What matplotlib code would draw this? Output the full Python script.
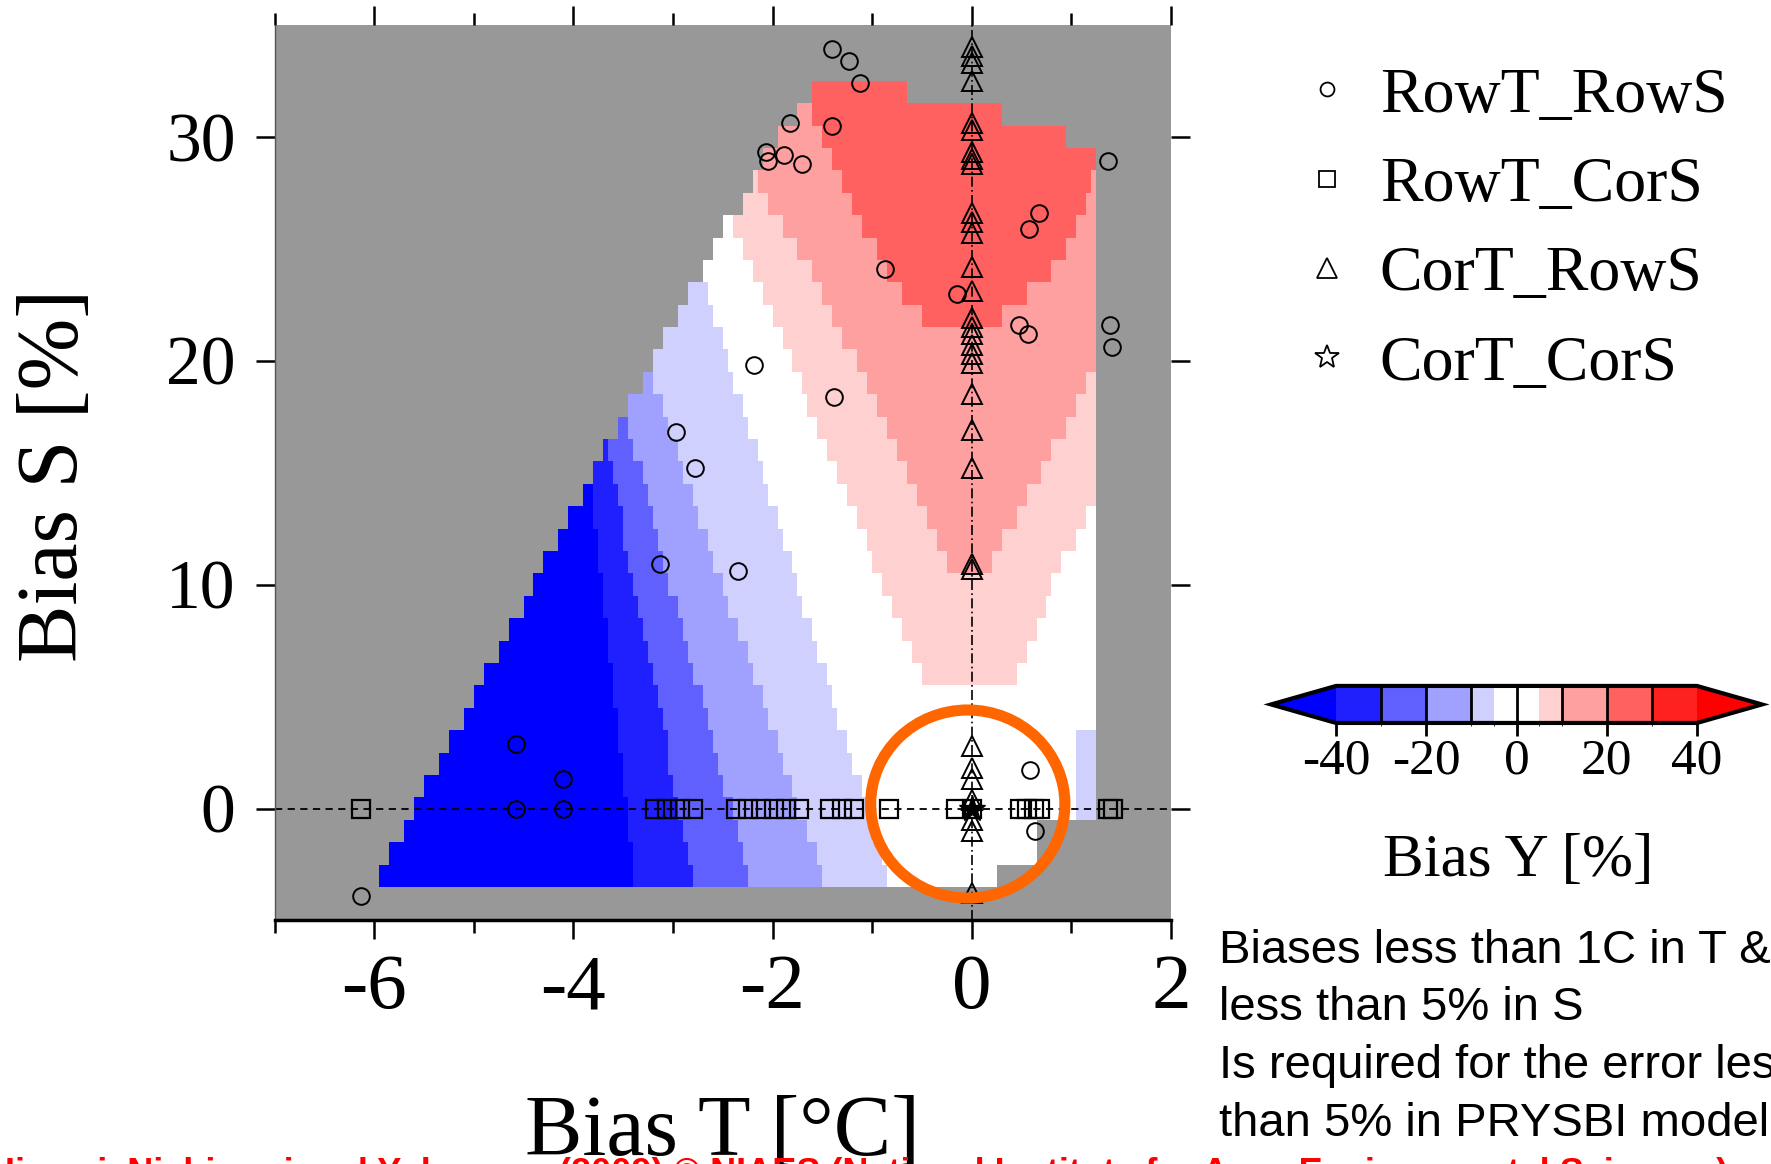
import numpy as np
import matplotlib
matplotlib.use("Agg")
import matplotlib.pyplot as plt
from matplotlib.colors import ListedColormap, BoundaryNorm
from matplotlib.cm import ScalarMappable
from matplotlib.patches import Ellipse
from matplotlib.lines import Line2D

plt.rcParams["font.family"] = ["Liberation Serif", "DejaVu Serif"]
plt.rcParams["axes.unicode_minus"] = False

# colour classes of Bias Y [%]
y_bounds = [-40, -30, -20, -10, -5, 0, 5, 10, 20, 30, 40]
y_colors = ["#2020ff", "#6060ff", "#a0a0ff", "#d0d0ff", "#ffffff",
            "#ffffff", "#ffd0d0", "#ffa0a0", "#ff6060", "#ff2020"]
y_under, y_over = "#0000ff", "#ff0000"
cbar_ticks = [-40, -20, 0, 20, 40]

# Bias S rows (%), one model row per 1 %
s_rows = np.arange(-3, 33)

# left / right edge (Bias T, degC) of the simulated domain for each row
dom_left = [-5.95, -5.85, -5.70, -5.60, -5.50, -5.35, -5.25, -5.10, -5.00, -4.90,   # S -3..6
            -4.75, -4.65, -4.50, -4.40, -4.30, -4.15, -4.05, -3.90, -3.80, -3.70,   # S 7..16
            -3.55, -3.45, -3.30, -3.20, -3.10, -2.95, -2.85, -2.70, -2.60, -2.50,   # S 17..26
            -2.30, -2.20, -2.10, -1.95, -1.75, -1.60]                               # S 27..32
dom_right = [0.25, 0.65, 0.65] + [1.25] * 30 + [0.95, 0.30, -0.65]

# right edge of each blue class (filled from the domain's left edge)
edge_lt40 = [-3.40, -3.40, -3.45, -3.45, -3.50, -3.50, -3.55, -3.55, -3.60,
             -3.60, -3.65, -3.65, -3.70, -3.70, -3.75, -3.75, -3.80, -3.80]        # S -3..14
edge_m30 = [-2.80, -2.85, -2.90, -2.95, -3.00, -3.05, -3.05, -3.10, -3.15, -3.20,
            -3.25, -3.30, -3.35, -3.40, -3.45, -3.50, -3.50, -3.55, -3.60, -3.65]  # S -3..16
edge_m20 = [-2.25, -2.30, -2.35, -2.40, -2.50, -2.55, -2.60, -2.65, -2.70, -2.80,
            -2.85, -2.90, -2.95, -3.05, -3.10, -3.15, -3.20, -3.25, -3.30, -3.40,
            -3.45]                                                                 # S -3..17
edge_m10 = [-1.50, -1.55, -1.65, -1.75, -1.80, -1.90, -1.95, -2.05, -2.10, -2.20,
            -2.25, -2.35, -2.45, -2.50, -2.60, -2.65, -2.75, -2.80, -2.90, -2.95,
            -3.05, -3.10, -3.20]                                                   # S -3..19
edge_m5 = [-0.85, -0.90, -1.00, -1.05, -1.10, -1.20, -1.25, -1.35, -1.40, -1.45,
           -1.55, -1.60, -1.70, -1.75, -1.80, -1.90, -1.95, -2.05, -2.10, -2.15,
           -2.25, -2.30, -2.40, -2.45, -2.50, -2.60, -2.65]                         # S -3..23

# red classes: left and right edges per row
p5_left = [-0.50, -0.60, -0.70, -0.80, -0.90, -1.00, -1.05, -1.15, -1.25, -1.35,
           -1.45, -1.55, -1.65, -1.70, -1.80, -1.90, -2.00, -2.10, -2.20, -2.30,
           -2.40, -2.30, -2.20, -2.10, -1.95, -1.75, -1.60]                         # S 6..32
p5_right = [0.45, 0.55, 0.65, 0.75, 0.80, 0.90, 1.05, 1.15] + [1.25] * 16 + [0.95, 0.30, -0.65]
p10_left = [-0.25, -0.35, -0.45, -0.55, -0.65, -0.75, -0.85, -0.95, -1.05, -1.15,
            -1.30, -1.40, -1.50, -1.60, -1.75, -1.90, -2.05, -2.15, -2.10, -1.95,
            -1.75, -1.60]                                                          # S 11..32
p10_right = [0.20, 0.30, 0.45, 0.55, 0.70, 0.80, 0.95, 1.05, 1.15] + [1.25] * 10 + [0.95, 0.30, -0.65]
p20_left = [-0.50, -0.70, -0.85, -0.95, -1.10, -1.20, -1.30, -1.40, -1.50, -1.60, -1.60]  # S 22..32
p20_right = [0.30, 0.55, 0.80, 0.95, 1.05, 1.15, 1.20, 1.25, 0.95, 0.30, -0.65]
strip_left = [1.05, 1.05, 1.05, 1.05]                                              # S 0..3
strip_right = [1.25, 1.25, 1.25, 1.25]

# experiments
rowT_rowS_T = [-1.40, -1.23, -1.12, -1.82, -1.40, -2.07, -2.05, -1.89, -1.70, 1.37,
               0.67, 0.57, -0.87, -0.15, 0.47, 0.56, 1.39, 1.41, -2.19, -1.38,
               -2.97, -2.78, -3.13, -2.35, -4.58, -4.10, -4.58, -4.10, 0.58, 0.63, -6.13]
rowT_rowS_S = [33.9, 33.4, 32.4, 30.6, 30.5, 29.3, 28.9, 29.2, 28.8, 28.9,
               26.6, 25.9, 24.1, 23.0, 21.6, 21.2, 21.6, 20.6, 19.8, 18.4,
               16.8, 15.2, 10.9, 10.6, 2.9, 1.3, 0.0, 0.0, 1.7, -1.0, -3.9]
rowT_corS_T = [-6.13, -3.18, -3.06, -2.93, -2.80, -2.37, -2.25, -2.12, -1.99, -1.86,
               -1.73, -1.42, -1.30, -1.18, -0.83, -0.16, 0.0, 0.48, 0.55, 0.62,
               0.68, 1.37, 1.42]
rowT_corS_S = [0.0] * len(rowT_corS_T)
corT_rowS_S = [34.0, 33.6, 33.3, 32.5, 30.6, 30.3, 29.3, 29.0, 28.8, 26.6,
               26.2, 25.7, 24.2, 23.1, 21.9, 21.5, 21.2, 20.7, 20.3, 19.9,
               18.5, 16.9, 15.2, 10.9, 10.7, 2.8, 1.8, 1.3, 0.4, -0.5, -1.0, -3.75]
corT_rowS_T = [0.0] * len(corT_rowS_S)
corT_corS_T = [0.0]
corT_corS_S = [0.0]

legend_labels = ["RowT_RowS", "RowT_CorS", "CorT_RowS", "CorT_CorS"]
notes = ["Biases less than 1C in T &", "less than 5% in S",
         "Is required for the error less", "than 5% in PRYSBI model"]
credit = ("Iizumi, Nishimori and Yokozawa (2009) \u00a9 NIAES "
          "(National Institute for Agro-Environmental Sciences)")

cmap = ListedColormap(y_colors).with_extremes(under=y_under, over=y_over)
norm = BoundaryNorm(y_bounds, cmap.N)

fig = plt.figure(figsize=(17.71, 11.64), dpi=100)
ax = fig.add_axes([0.155, 0.2092, 0.5062, 0.7695])
ax.set_facecolor("#989898")


def band(rows, lo, hi, value):
    lo = np.asarray(lo, float)
    hi = np.asarray(hi, float)
    ax.barh(rows, hi - lo, left=lo, height=1.0, color=cmap(norm(value)),
            linewidth=0, antialiased=False, zorder=1)


dl = np.asarray(dom_left)
band(s_rows, dl, dom_right, 0)
band(s_rows[:27], dl[:27], edge_m5, -7.5)
band(s_rows[:23], dl[:23], edge_m10, -15)
band(s_rows[:21], dl[:21], edge_m20, -25)
band(s_rows[:20], dl[:20], edge_m30, -35)
band(s_rows[:18], dl[:18], edge_lt40, -45)
band(s_rows[9:], p5_left, p5_right, 7.5)
band(s_rows[14:], p10_left, p10_right, 15)
band(s_rows[25:], p20_left, p20_right, 25)
band(s_rows[3:7], strip_left, strip_right, -7.5)

ax.axhline(0, color="black", lw=1.3, ls=(0, (4, 3)), zorder=2)
ax.axvline(0, color="black", lw=1.2, ls=(0, (6, 2, 1, 2)), zorder=2)

ax.plot(rowT_rowS_T, rowT_rowS_S, "o", ms=12, mfc="none", mec="black", mew=1.4, zorder=3)
ax.plot(rowT_corS_T, rowT_corS_S, "s", ms=13, mfc="none", mec="black", mew=1.6, zorder=3)
ax.plot(corT_rowS_T, corT_rowS_S, "^", ms=15, mfc="none", mec="black", mew=1.4, zorder=3)
ax.plot(corT_corS_T, corT_corS_S, "*", ms=20, mfc="black", mec="black", zorder=4)

ax.add_patch(Ellipse((-0.04, 0.2), 1.95, 8.4, fill=False, ec="#ff6600", lw=8, zorder=5))

ax.set_xlim(-7, 2)
ax.set_ylim(-5, 35)
ax.set_xticks([-6, -4, -2, 0, 2])
ax.set_xticks([-7, -5, -3, -1, 1], minor=True)
ax.set_yticks([0, 10, 20, 30])
ax.tick_params(which="both", direction="out", top=True, right=True, width=1.8)
ax.tick_params(which="major", length=14)
ax.tick_params(which="minor", length=9)
ax.tick_params(axis="x", labelsize=57, pad=10)
ax.tick_params(axis="y", labelsize=50, pad=14)
for side in ["top", "right"]:
    ax.spines[side].set_visible(False)
ax.spines["bottom"].set_linewidth(2.5)
ax.spines["left"].set_linewidth(1.0)
ax.spines["left"].set_color("#555555")

ax.set_xlabel("Bias T [\u00b0C]", fontsize=62)
ax.xaxis.label.set_va("baseline")
ax.xaxis.set_label_coords(0.5, -0.262)
ax.set_ylabel("Bias S [%]", fontsize=62)
ax.yaxis.label.set(ha="center", va="center")
ax.yaxis.set_label_coords(-0.244, 0.497)

# legend keys drawn as open symbols, like the reference key
keys = [Line2D([], [], ls="none", marker="o", ms=10, mfc="none", mec="black", mew=1.3),
        Line2D([], [], ls="none", marker="s", ms=12, mfc="none", mec="black", mew=1.3),
        Line2D([], [], ls="none", marker="^", ms=14, mfc="none", mec="black", mew=1.3),
        Line2D([], [], ls="none", marker="*", ms=18, mfc="none", mec="black", mew=1.3)]
fig.legend(keys, legend_labels, loc="upper left", bbox_to_anchor=(0.735, 0.9425),
           frameon=False, prop={"family": "Liberation Serif", "size": 46}, numpoints=1,
           handlelength=0.8, handletextpad=0.42, labelspacing=0.48,
           borderpad=0, borderaxespad=0)

cax = fig.add_axes([0.7177, 0.3789, 0.2772, 0.0318])
cb = fig.colorbar(ScalarMappable(norm=norm, cmap=cmap), cax=cax, orientation="horizontal",
                  extend="both", extendfrac=0.18, spacing="proportional", ticks=cbar_ticks)
cb.outline.set_linewidth(3)
for v in [-30, -20, -10, 0, 10, 20, 30]:
    cax.axvline(v, color="black", lw=2)
cax.tick_params(length=9, width=2, labelsize=37, pad=2)
fig.text(0.857, 1 - 861 / 1164, "Bias Y [%]", fontsize=44, ha="center", va="center")

for i, line in enumerate(notes):
    fig.text(0.6885, 1 - (963 + 57.5 * i) / 1164, line, fontsize=34,
             family=["Liberation Sans", "DejaVu Sans"], va="baseline")

fig.text(0.003, 1 - 1184 / 1164, credit, fontsize=26, fontweight="bold", color="red",
         family=["Liberation Sans", "DejaVu Sans"], va="baseline")

fig.savefig("out.png", dpi=100)
